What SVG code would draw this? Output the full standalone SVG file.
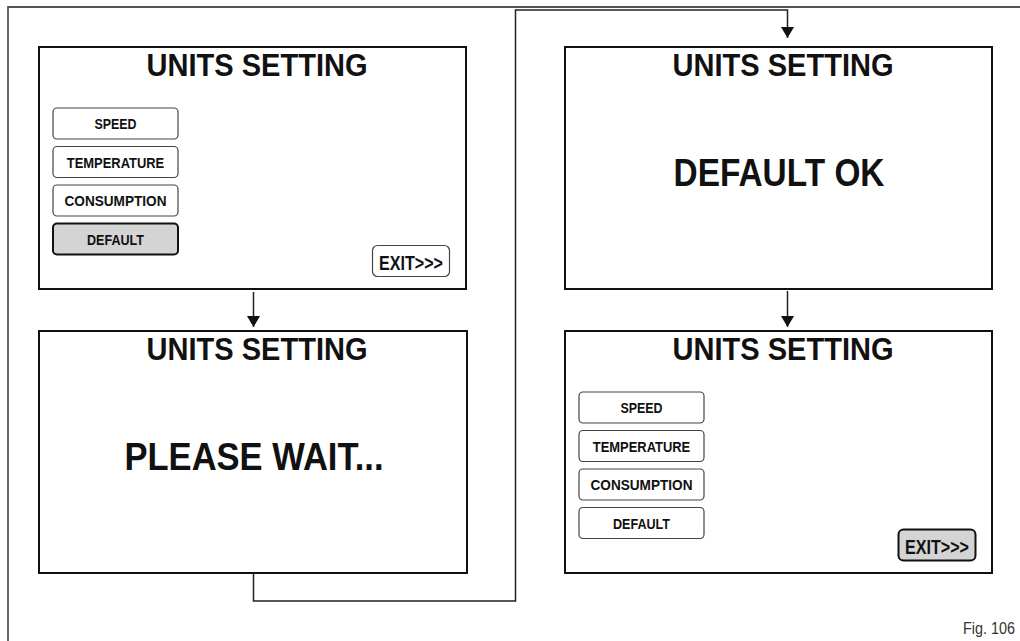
<svg xmlns="http://www.w3.org/2000/svg" width="1020" height="641" viewBox="0 0 1020 641">
<style>
.frame{fill:none;stroke:#555;stroke-width:1.8}
.panel{fill:#fff;stroke:#111;stroke-width:2}
.btn{fill:#fff;stroke:#444;stroke-width:1.2}
.sel{fill:#d4d4d4;stroke:#111;stroke-width:2}
.t{font-family:"Liberation Sans",Arial,sans-serif;font-weight:bold;fill:#111;text-anchor:middle}
.title{font-size:32px}
.big{font-size:39px}
.b{font-size:15.5px}
.exit{font-size:21px}
.conn{fill:none;stroke:#222;stroke-width:1.5}
.fig{font-family:"Liberation Sans",Arial,sans-serif;font-size:16px;fill:#333;text-anchor:end}
</style>
<defs>
<marker id="arr" markerUnits="userSpaceOnUse" markerWidth="11" markerHeight="13" viewBox="0 0 11 13" refX="11" refY="6.5" orient="auto">
<path d="M0,0 L11,6.5 L0,13 z" fill="#111"/>
</marker>
</defs>
<rect width="1020" height="641" fill="#fff"/>
<path class="frame" d="M8,641 V7 H1020"/>

<g id="connectors">
<path class="conn" d="M253.5,292 V327" marker-end="url(#arr)"/>
<path class="conn" d="M253.5,574 V601 H515.5 V10 H787.5 V38" marker-end="url(#arr)"/>
<path class="conn" d="M787.5,291 V327" marker-end="url(#arr)"/>
</g>

<g id="panel1">
<rect class="panel" x="39" y="47" width="427" height="242"/>
<text class="t title" x="257" y="76" textLength="221" lengthAdjust="spacingAndGlyphs">UNITS SETTING</text>
<rect class="btn" x="53" y="108" width="125" height="31" rx="4"/>
<text class="t b" x="115.5" y="129" textLength="42" lengthAdjust="spacingAndGlyphs">SPEED</text>
<rect class="btn" x="53" y="146.5" width="125" height="31" rx="4"/>
<text class="t b" x="115.5" y="167.5" textLength="97.5" lengthAdjust="spacingAndGlyphs">TEMPERATURE</text>
<rect class="btn" x="53" y="185" width="125" height="31" rx="4"/>
<text class="t b" x="115.5" y="206" textLength="102" lengthAdjust="spacingAndGlyphs">CONSUMPTION</text>
<rect class="sel" x="53" y="223.5" width="125" height="31" rx="4"/>
<text class="t b" x="115.5" y="244.5" textLength="57" lengthAdjust="spacingAndGlyphs">DEFAULT</text>
<rect class="btn" x="372.5" y="245.5" width="77" height="31" rx="5"/>
<text class="t exit" x="411" y="269.5" textLength="64" lengthAdjust="spacingAndGlyphs">EXIT&gt;&gt;&gt;</text>
</g>

<g id="panel2">
<rect class="panel" x="39" y="331" width="428" height="242"/>
<text class="t title" x="257" y="360" textLength="221" lengthAdjust="spacingAndGlyphs">UNITS SETTING</text>
<text class="t big" x="254" y="470" textLength="259" lengthAdjust="spacingAndGlyphs">PLEASE WAIT...</text>
</g>

<g id="panel3">
<rect class="panel" x="565" y="47" width="427" height="242"/>
<text class="t title" x="783" y="76" textLength="221" lengthAdjust="spacingAndGlyphs">UNITS SETTING</text>
<text class="t big" x="779" y="186" textLength="211" lengthAdjust="spacingAndGlyphs">DEFAULT OK</text>
</g>

<g id="panel4">
<rect class="panel" x="565" y="331" width="427" height="242"/>
<text class="t title" x="783" y="360" textLength="221" lengthAdjust="spacingAndGlyphs">UNITS SETTING</text>
<rect class="btn" x="579" y="392" width="125" height="31" rx="4"/>
<text class="t b" x="641.5" y="413" textLength="42" lengthAdjust="spacingAndGlyphs">SPEED</text>
<rect class="btn" x="579" y="430.5" width="125" height="31" rx="4"/>
<text class="t b" x="641.5" y="451.5" textLength="97.5" lengthAdjust="spacingAndGlyphs">TEMPERATURE</text>
<rect class="btn" x="579" y="469" width="125" height="31" rx="4"/>
<text class="t b" x="641.5" y="490" textLength="102" lengthAdjust="spacingAndGlyphs">CONSUMPTION</text>
<rect class="btn" x="579" y="507.5" width="125" height="31" rx="4"/>
<text class="t b" x="641.5" y="528.5" textLength="57" lengthAdjust="spacingAndGlyphs">DEFAULT</text>
<rect class="sel" x="898.5" y="529.5" width="77" height="31" rx="5"/>
<text class="t exit" x="937" y="553.5" textLength="64" lengthAdjust="spacingAndGlyphs">EXIT&gt;&gt;&gt;</text>
</g>

<text class="fig" x="1015" y="634" textLength="52" lengthAdjust="spacingAndGlyphs">Fig. 106</text>
</svg>
